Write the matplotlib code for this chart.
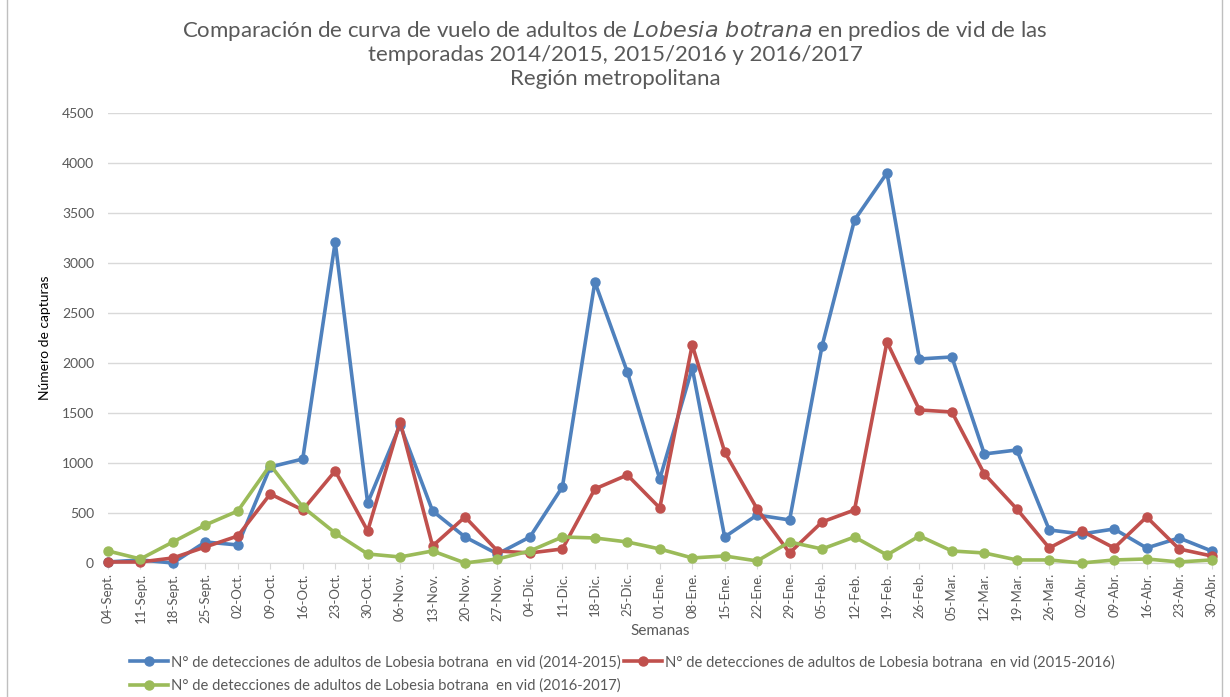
"""Curva de vuelo de Lobesia botrana, tres temporadas (Región metropolitana)."""

import matplotlib

matplotlib.use("Agg")
import matplotlib.pyplot as plt
from matplotlib.lines import Line2D

weeks = [
    "04-Sept.", "11-Sept.", "18-Sept.", "25-Sept.", "02-Oct.", "09-Oct.", "16-Oct.",
    "23-Oct.", "30-Oct.", "06-Nov.", "13-Nov.", "20-Nov.", "27-Nov.", "04-Dic.",
    "11-Dic.", "18-Dic.", "25-Dic.", "01-Ene.", "08-Ene.", "15-Ene.", "22-Ene.",
    "29-Ene.", "05-Feb.", "12-Feb.", "19-Feb.", "26-Feb.", "05-Mar.", "12-Mar.",
    "19-Mar.", "26-Mar.", "02-Abr.", "09-Abr.", "16-Abr.", "23-Abr.", "30-Abr.",
]

season_2014 = [
    10, 30, 0, 210, 180, 960, 1040, 3210, 600, 1380, 520, 260, 90, 260, 760,
    2810, 1910, 840, 1950, 260, 480, 430, 2170, 3430, 3900, 2040, 2060, 1090,
    1130, 330, 290, 340, 150, 250, 120,
]
season_2015 = [
    10, 10, 50, 160, 270, 690, 530, 920, 320, 1410, 170, 460, 120, 100, 140,
    740, 880, 550, 2180, 1110, 540, 100, 410, 530, 2210, 1530, 1510, 890,
    540, 150, 320, 150, 460, 140, 70,
]
season_2016 = [
    120, 40, 210, 380, 520, 980, 560, 300, 90, 60, 120, 0, 40, 120, 260,
    250, 210, 140, 50, 70, 20, 210, 140, 260, 80, 270, 120, 100,
    30, 30, 0, 30, 40, 10, 30,
]

labels = [
    "N° de detecciones de adultos de Lobesia botrana  en vid (2014-2015)",
    "N° de detecciones de adultos de Lobesia botrana  en vid (2015-2016)",
    "N° de detecciones de adultos de Lobesia botrana  en vid (2016-2017)",
]
colors = ["#4F81BD", "#C0504D", "#9BBB59"]
TEXT = "#595959"

plt.rcParams["font.family"] = ["Lato", "DejaVu Sans"]

fig = plt.figure(figsize=(12.3, 6.97), dpi=100)
ax = fig.add_axes([0.0878, 0.1923, 0.8972, 0.6456])

x = range(len(weeks))
lines = []
for values, color, label in zip([season_2014, season_2015, season_2016], colors, labels):
    (line,) = ax.plot(x, values, color=color, linewidth=2.6, marker="o",
                      markersize=6.5, label=label, clip_on=False, zorder=3)
    lines.append(line)

ax.set_xlim(0, len(weeks) - 1)
ax.set_ylim(0, 4500)
ax.set_yticks(range(0, 4501, 500))
ax.yaxis.grid(True, color="#D9D9D9", linewidth=1)
ax.set_axisbelow(True)
for side in ("top", "right", "left"):
    ax.spines[side].set_visible(False)
ax.spines["bottom"].set_color("#D9D9D9")
ax.tick_params(axis="y", length=0, labelsize=10, colors=TEXT, pad=10)
ax.set_xticks(list(x))
ax.set_xticklabels(weeks, rotation=90, fontsize=9.5, color=TEXT)
ax.tick_params(axis="x", length=4, color="#D9D9D9", pad=3)

ax.set_ylabel("Número de capturas", fontsize=10, color="black", labelpad=8)
ax.set_xlabel("Semanas", fontsize=11, color=TEXT, labelpad=1)

title_kw = dict(ha="center", va="center", fontsize=16, color=TEXT)
fig.text(0.5, 0.955, "Comparación de curva de vuelo de adultos de $\\it{Lobesia\\ botrana}$ "
         "en predios de vid de las", **title_kw)
fig.text(0.5, 0.921, "temporadas 2014/2015, 2015/2016 y 2016/2017", **title_kw)
fig.text(0.5, 0.887, "Región metropolitana", **title_kw)

fig.legend([lines[0], lines[2], lines[1]], [labels[0], labels[2], labels[1]],
           ncol=2, loc="lower left", bbox_to_anchor=(0.095, -0.013), frameon=False,
           fontsize=10.6, labelcolor=TEXT, handlelength=2.6, columnspacing=0.2,
           handletextpad=0.2, labelspacing=0.6)

# thin frame of the chart area
for xpos in (7 / 1230, 1222 / 1230):
    fig.add_artist(Line2D([xpos, xpos], [0, 1], transform=fig.transFigure,
                          color="#BFBFBF", linewidth=1))

fig.savefig("out.png", dpi=100)
